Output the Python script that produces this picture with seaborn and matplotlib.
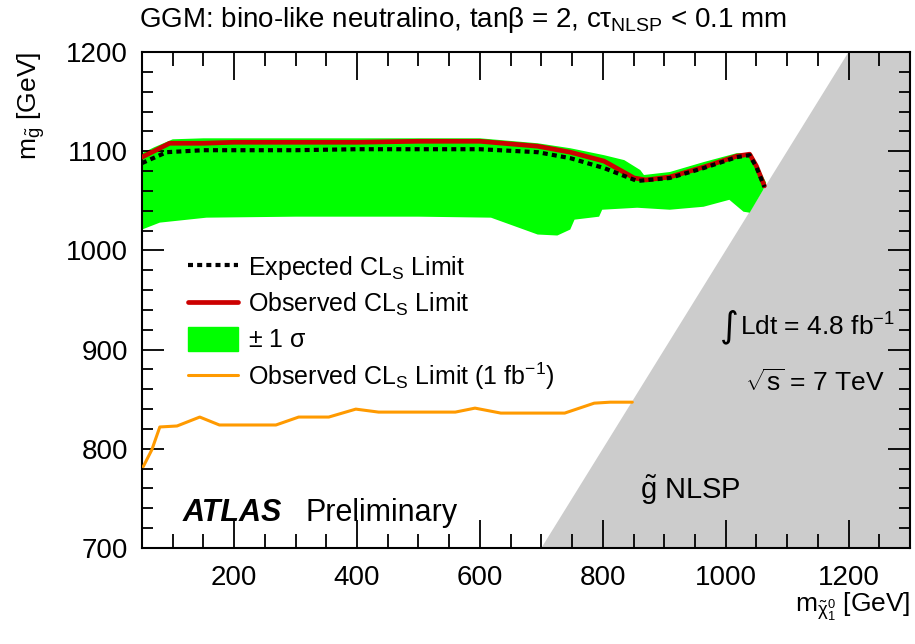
import numpy as np
import pandas as pd
import matplotlib
matplotlib.use("Agg")
import matplotlib.pyplot as plt
import seaborn as sns
from matplotlib.lines import Line2D
from matplotlib.patches import Patch
from matplotlib.ticker import MultipleLocator

# ---------------- data ----------------
exp_x = [50, 90, 150, 200, 300, 400, 500, 600, 694, 747, 802, 856, 909, 964, 1018, 1039, 1050, 1063]
exp_y = [1088, 1099, 1101, 1101, 1101, 1102, 1102, 1102, 1099, 1093, 1083, 1070, 1073, 1083, 1094, 1096, 1084, 1064]

obs_x = [50, 95, 150, 200, 300, 400, 500, 600, 694, 747, 802, 828, 851, 870, 909, 964, 1018, 1039, 1050, 1063]
obs_y = [1094, 1108, 1108, 1109, 1109, 1109, 1110, 1110, 1105, 1099, 1090, 1081, 1073, 1071, 1074, 1084, 1095, 1097, 1085, 1065]

band_up_x = [50, 70, 100, 150, 300, 500, 600, 694, 747, 802, 835, 861, 867, 909, 964, 1018, 1042, 1066]
band_up_y = [1098, 1104, 1112, 1113, 1113, 1113, 1113, 1108, 1103, 1096, 1091, 1081, 1076, 1079, 1089, 1098, 1098, 1068]

band_lo_x = [50, 79, 155, 300, 500, 618, 694, 726, 747, 754, 794, 799, 856, 909, 964, 1006, 1029, 1039, 1061, 1066]
band_lo_y = [1021, 1028, 1033, 1034, 1034, 1033, 1016, 1015, 1021, 1031, 1034, 1041, 1043, 1041, 1044, 1051, 1039, 1038, 1061, 1068]

old_x = [52, 66, 79, 107, 144, 176, 268, 305, 354, 398, 435, 560, 592, 634, 738, 786, 812, 848]
old_y = [782, 799, 822, 823, 832, 824, 824, 832, 832, 840, 837, 837, 841, 836, 836, 846, 847, 847]

# excluded region (gluino lighter than neutralino): boundary m_g = m_chi
nlsp_x = [700, 1200, 1300, 1300]
nlsp_y = [700, 1200, 1200, 700]

legend_labels = [r"Expected CL$_{\mathrm{S}}$ Limit",
                 r"Observed CL$_{\mathrm{S}}$ Limit",
                 r"$\pm$ 1 $\sigma$",
                 r"Observed CL$_{\mathrm{S}}$ Limit (1 fb$^{-1}$)"]

# ---------------- style ----------------
sns.set_theme(style="ticks", rc={"xtick.direction": "in", "ytick.direction": "in",
                                 "xtick.top": True, "ytick.right": True,
                                 "xtick.bottom": True, "ytick.left": True,
                                 "text.color": "black", "axes.labelcolor": "black",
                                 "xtick.color": "black", "ytick.color": "black"})
plt.rcParams["font.family"] = ["Liberation Sans", "DejaVu Sans"]
plt.rcParams["mathtext.fontset"] = "custom"
plt.rcParams["mathtext.rm"] = "Liberation Sans"
plt.rcParams["mathtext.it"] = "Liberation Sans"
plt.rcParams["mathtext.bf"] = "Liberation Sans:bold"
plt.rcParams["mathtext.sf"] = "Liberation Sans"

GREEN = "#00ff00"
RED = "#cc0000"
ORANGE = "#ff9a00"
GREY = "#cccccc"

fig = plt.figure(figsize=(9.15, 6.44), dpi=100)
ax = fig.add_axes([142/915, 1 - 548/644, 768/915, 496/644])

# grey NLSP region
ax.fill(nlsp_x, nlsp_y, color=GREY, lw=0, zorder=1)

# green band
poly_x = list(band_up_x) + list(band_lo_x[::-1])
poly_y = list(band_up_y) + list(band_lo_y[::-1])
ax.fill(poly_x, poly_y, color=GREEN, lw=0, zorder=2)

df_obs = pd.DataFrame({"x": obs_x, "y": obs_y})
df_exp = pd.DataFrame({"x": exp_x, "y": exp_y})
df_old = pd.DataFrame({"x": old_x, "y": old_y})

sns.lineplot(data=df_obs, x="x", y="y", sort=False, estimator=None, ax=ax,
             color=RED, lw=3.4, zorder=3)
sns.lineplot(data=df_exp, x="x", y="y", sort=False, estimator=None, ax=ax,
             color="black", lw=3.0, zorder=4)
ax.lines[-1].set_linestyle((0, (1.2, 1.0)))
sns.lineplot(data=df_old, x="x", y="y", sort=False, estimator=None, ax=ax,
             color=ORANGE, lw=2.2, zorder=3)

ax.set_xlim(50, 1300)
ax.set_ylim(700, 1200)

ax.xaxis.set_major_locator(MultipleLocator(200))
ax.xaxis.set_minor_locator(MultipleLocator(50))
ax.yaxis.set_major_locator(MultipleLocator(100))
ax.yaxis.set_minor_locator(MultipleLocator(20))
ax.xaxis.set_ticks_position("both")
ax.yaxis.set_ticks_position("both")

for s in ax.spines.values():
    s.set_linewidth(1.5)
    s.set_color("black")
    s.set_visible(True)

ax.tick_params(axis="both", which="both", direction="in", colors="black",
               width=1.3, labelsize=20, zorder=10)
ax.tick_params(axis="x", which="major", length=20, pad=12)
ax.tick_params(axis="x", which="minor", length=10)
ax.tick_params(axis="y", which="major", length=16, pad=10)
ax.tick_params(axis="y", which="minor", length=8)
ax.tick_params(labelbottom=True, labelleft=True, labeltop=False, labelright=False)
ax.set_axisbelow(False)

ax.set_xlabel(r"m$_{\tilde{\chi}^{0}_{1}}$ [GeV]", loc="right", fontsize=19, labelpad=0,
              color="black")
ax.set_ylabel(r"m$_{\tilde{g}}$ [GeV]", loc="top", fontsize=19, labelpad=14, color="black")

# legend
handles = [Line2D([0], [0], color="black", lw=3.0, linestyle=(0, (1.2, 1.0))),
           Line2D([0], [0], color=RED, lw=3.4),
           Patch(facecolor=GREEN, edgecolor=GREEN),
           Line2D([0], [0], color=ORANGE, lw=2.2)]
leg = ax.legend(handles, legend_labels, loc="upper left",
                bbox_to_anchor=((188 - 142) / 768, (548 - 254) / 496),
                frameon=False, fontsize=18, handlelength=2.0, handletextpad=0.4,
                labelspacing=0.35, borderpad=0, borderaxespad=0, handleheight=1.1,
                labelcolor="black")

# annotations
fig.text(139/915, 1 - 20/644,
         r"GGM: bino-like neutralino, tan$\beta$ = 2, c$\tau_{\mathrm{NLSP}}$ < 0.1 mm",
         fontsize=20, ha="left", va="center", color="black")
ax.text(183/915, 1 - 513/644, "ATLAS", transform=fig.transFigure, fontsize=22,
        fontweight="bold", fontstyle="italic", ha="left", va="center", color="black")
ax.text(305/915, 1 - 513/644, "Preliminary", transform=fig.transFigure, fontsize=22,
        ha="left", va="center", color="black")
fig.text(729/915, 1 - 327/644, "\u222b", fontsize=26, ha="center", va="center",
         family=["DejaVu Sans"], color="black")
fig.text(740/915, 1 - 327/644, r"Ldt = 4.8 fb$^{-1}$", fontsize=19, ha="left", va="center",
         color="black")
fig.text(745/915, 1 - 383/644, r"$\sqrt{\mathrm{s}}$ = 7 TeV", fontsize=19, ha="left",
         va="center", color="black")
fig.text(640/915, 1 - 490/644, r"$\tilde{\mathrm{g}}$ NLSP", fontsize=21, ha="left",
         va="center", color="black")

fig.savefig("out.png", dpi=100)
